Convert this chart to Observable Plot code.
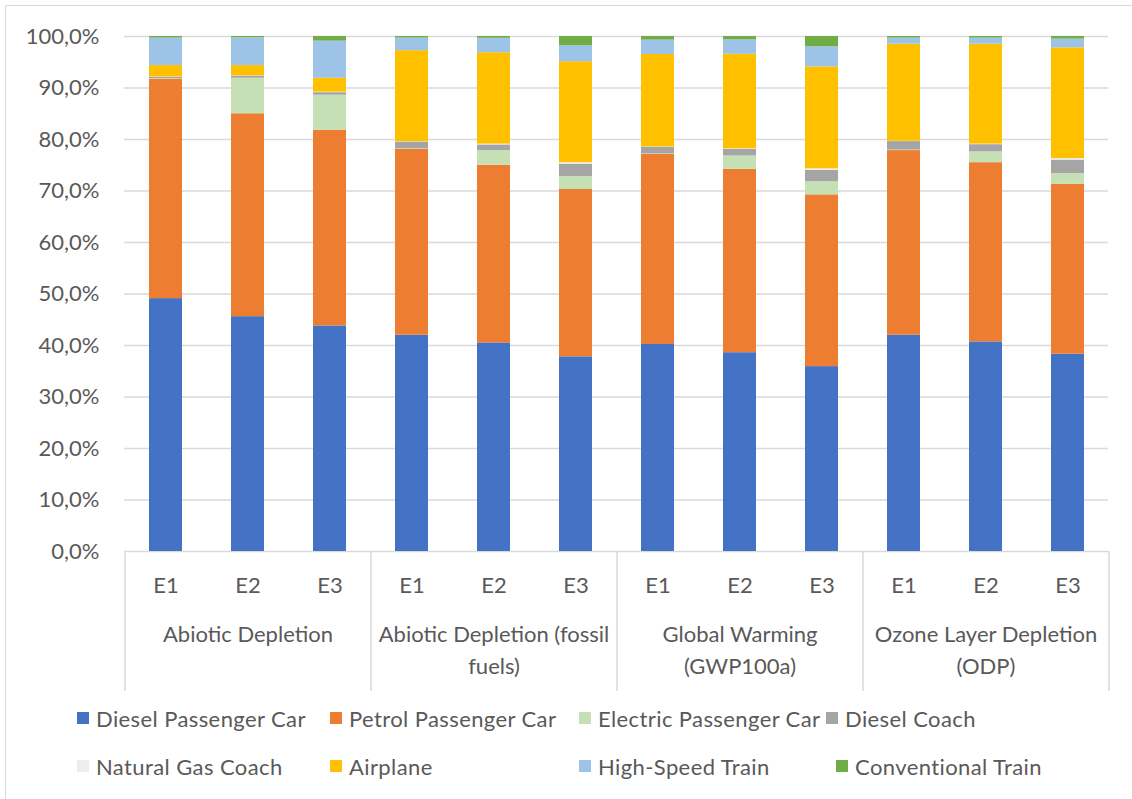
<!DOCTYPE html>
<html>
<head>
<meta charset="utf-8">
<script src="https://cdn.jsdelivr.net/npm/d3@7"></script>
<script src="https://cdn.jsdelivr.net/npm/@observablehq/plot@0.6"></script>
<style>
  body { margin: 0; background: #fff; font-family: Lato, sans-serif; }
  #frame { position: relative; width: 1132px; height: 799px; overflow: hidden; background: #fff; }
  #border { position: absolute; left: 5px; top: 5px; width: 1160px; height: 840px; border: 1.5px solid #d9d9d9; }
  #chart { position: absolute; left: 0; top: 0; }
  .item { position: absolute; height: 28px; display: flex; align-items: center; font-size: 22px; letter-spacing: 0.4px; color: #595959; white-space: nowrap; }
  .sw { width: 12px; height: 12px; margin-right: 7px; flex: none; }
</style>
</head>
<body>
<div id="frame">
  <div id="border"></div>
  <div id="chart"></div>
  <div id="legend"></div>
</div>
<script>
// Impact categories and scenarios
const groups = ["Abiotic Depletion", "Abiotic Depletion (fossil fuels)", "Global Warming (GWP100a)", "Ozone Layer Depletion (ODP)"];
const groupLabels = ["Abiotic Depletion", "Abiotic Depletion (fossil\nfuels)", "Global Warming\n(GWP100a)", "Ozone Layer Depletion\n(ODP)"];
const scenarios = ["E1", "E2", "E3"];

// Transport modes, bottom of the stack first
const modes = ["Diesel Passenger Car", "Petrol Passenger Car", "Electric Passenger Car", "Diesel Coach",
               "Natural Gas Coach", "Airplane", "High-Speed Train", "Conventional Train"];
const colors = ["#4472C4", "#ED7D31", "#C5E0B4", "#A5A5A5", "#EDEDED", "#FFC000", "#9DC3E6", "#70AD47"];

// Share of each mode (%), per category E1..E3
const dieselCar   = [49.1, 45.6, 43.8, 42.0, 40.5, 37.8, 40.2, 38.6, 35.9, 42.0, 40.7, 38.3];
const petrolCar   = [42.6, 39.4, 38.0, 36.1, 34.5, 32.5, 36.9, 35.6, 33.35, 35.85, 34.8, 33.0];
const electricCar = [0.1, 6.9, 6.8, 0.1, 2.85, 2.5, 0.1, 2.6, 2.55, 0.1, 2.1, 2.1];
const dieselCoach = [0.3, 0.4, 0.5, 1.3, 1.1, 2.4, 1.3, 1.3, 2.2, 1.65, 1.4, 2.6];
const gasCoach    = [0.05, 0.05, 0.1, 0.05, 0.15, 0.3, 0.05, 0.1, 0.3, 0.05, 0.1, 0.3];
const airplane    = [2.2, 2.0, 2.7, 17.7, 17.75, 19.6, 17.95, 18.35, 19.8, 18.85, 19.4, 21.5];
const highSpeed   = [5.35, 5.4, 7.2, 2.45, 2.8, 3.1, 2.8, 2.8, 3.9, 1.2, 1.2, 1.7];
const convTrain   = [0.3, 0.25, 0.9, 0.3, 0.35, 1.8, 0.7, 0.65, 2.0, 0.3, 0.3, 0.5];

const yTicks = d3.range(0, 101, 10);

const series = [dieselCar, petrolCar, electricCar, dieselCoach, gasCoach, airplane, highSpeed, convTrain];
const keyOf = (g, s) => `${g}|${s}`;
const keys = groups.flatMap(g => scenarios.map(s => keyOf(g, s)));

const table = [];
groups.forEach((g, gi) => scenarios.forEach((s, si) => modes.forEach((m, mi) => {
  table.push({key: keyOf(g, s), mode: m, value: series[mi][gi * scenarios.length + si]});
})));

// Layout
const W = 1132, H = 700, mL = 124, mR = 24, mT = 36, mB = 149;
const step = (W - mL - mR) / keys.length;
const ink = "#595959", rule = "#d9d9d9", fs = 22;
const pct = d => d.toFixed(1).replace(".", ",") + "%";

const chart = Plot.plot({
  width: W, height: H,
  marginLeft: mL, marginRight: mR, marginTop: mT, marginBottom: mB,
  style: {fontFamily: "Lato, sans-serif", background: "transparent", color: ink},
  x: {type: "band", domain: keys, paddingInner: 0.6, paddingOuter: 0.3},
  y: {domain: [0, 100]},
  color: {domain: modes, range: colors},
  marks: [
    Plot.gridY(yTicks, {stroke: rule, strokeOpacity: 1, strokeWidth: 1.5}),
    Plot.barY(table, Plot.stackY({x: "key", y: "value", fill: "mode", z: "mode"})),
    Plot.axisY(yTicks, {tickSize: 0, tickPadding: 25, tickFormat: pct, fontSize: fs, fill: ink, label: null}),
    Plot.axisX({tickSize: 0, tickPadding: 26, tickFormat: k => k.split("|")[1], fontSize: fs, fill: ink, label: null}),
    // group separators below the axis
    Plot.ruleX(groups, {x: g => keyOf(g, scenarios[0]), dx: -step / 2, y1: 0, y2: 0, insetBottom: -140, stroke: rule, strokeWidth: 1.5}),
    Plot.ruleX(groups.slice(-1), {x: g => keyOf(g, scenarios[scenarios.length - 1]), dx: step / 2, y1: 0, y2: 0, insetBottom: -140, stroke: rule, strokeWidth: 1.5}),
    // category labels
    Plot.text(groups, {x: g => keyOf(g, scenarios[1]), text: (g, i) => groupLabels[i], frameAnchor: "bottom",
      dy: 68, lineAnchor: "top", lineHeight: 1.45, fontSize: fs, fill: ink, style: "letter-spacing:0.4px"})
  ]
});
document.getElementById("chart").appendChild(chart);

// Legend, two rows of four
const legendSlots = [
  {left: 96, top: 718}, {left: 349, top: 718}, {left: 598, top: 718}, {left: 845, top: 718},
  {left: 96, top: 766}, {left: 349, top: 766}, {left: 598, top: 766}, {left: 855, top: 766}
];
const legend = document.getElementById("legend");
modes.forEach((m, i) => {
  const item = document.createElement("div");
  item.className = "item";
  item.style.left = (legendSlots[i].left - 19) + "px";
  item.style.top = (legendSlots[i].top - 14) + "px";
  const sw = document.createElement("span");
  sw.className = "sw";
  sw.style.background = colors[i];
  const label = document.createElement("span");
  label.textContent = m;
  item.append(sw, label);
  legend.appendChild(item);
});
</script>
</body>
</html>
